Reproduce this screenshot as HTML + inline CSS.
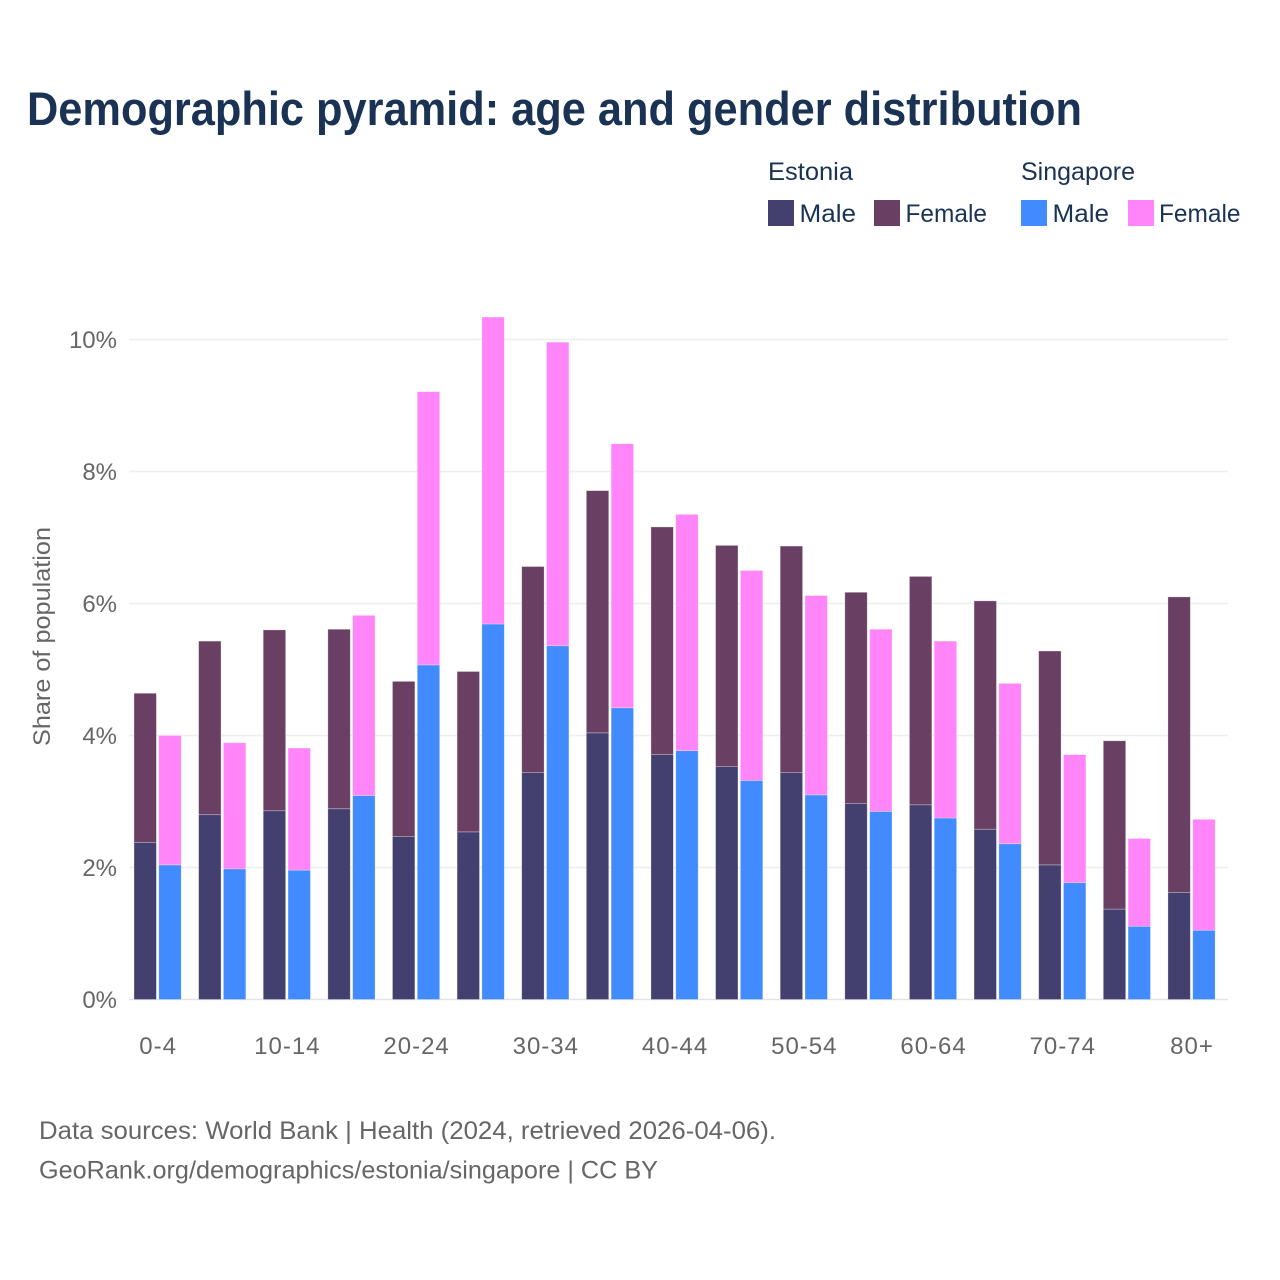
<!DOCTYPE html>
<html lang="en">
<head>
<meta charset="utf-8">
<title>Demographic pyramid: age and gender distribution</title>
<style>
  html, body { margin: 0; padding: 0; background: #fff; }
  svg { display: block; font-family: "Liberation Sans", sans-serif; }
</style>
</head>
<body>
<svg id="chart" xmlns="http://www.w3.org/2000/svg" width="1280" height="1280" viewBox="0 0 1280 1280">
  <rect x="0" y="0" width="1280" height="1280" fill="#ffffff"/>
  <text x="27" y="125" font-size="47" font-weight="700" fill="#1a3354" textLength="1055" lengthAdjust="spacingAndGlyphs">Demographic pyramid: age and gender distribution</text>

  <g font-size="25" fill="#1a3354">
    <text x="768" y="180" textLength="85" lengthAdjust="spacingAndGlyphs">Estonia</text>
    <text x="1021" y="180" textLength="114" lengthAdjust="spacingAndGlyphs">Singapore</text>
    <rect x="768" y="200" width="26" height="26" fill="#434070"/>
    <text x="799.5" y="222" textLength="56.5" lengthAdjust="spacingAndGlyphs">Male</text>
    <rect x="874" y="200" width="26" height="26" fill="#694063"/>
    <text x="905.5" y="222" textLength="81.5" lengthAdjust="spacingAndGlyphs">Female</text>
    <rect x="1021" y="200" width="26" height="26" fill="#418bff"/>
    <text x="1052.5" y="222" textLength="56.5" lengthAdjust="spacingAndGlyphs">Male</text>
    <rect x="1128" y="200" width="26" height="26" fill="#ff85f8"/>
    <text x="1159" y="222" textLength="81.5" lengthAdjust="spacingAndGlyphs">Female</text>
  </g>

  <g id="grid"></g>
  <g id="bars"></g>
  <g id="yticks"></g>
  <g id="xticks"></g>

  <text transform="translate(50 636.5) rotate(-90)" text-anchor="middle" font-size="24" fill="#666666" textLength="219" lengthAdjust="spacingAndGlyphs">Share of population</text>

  <text x="39" y="1139" font-size="25" fill="#666666" textLength="737" lengthAdjust="spacingAndGlyphs">Data sources: World Bank | Health (2024, retrieved 2026-04-06).</text>
  <text x="39" y="1178.5" font-size="25" fill="#666666" textLength="619" lengthAdjust="spacingAndGlyphs">GeoRank.org/demographics/estonia/singapore | CC BY</text>
</svg>
<script>
const categories = ["0-4","5-9","10-14","15-19","20-24","25-29","30-34","35-39","40-44","45-49","50-54","55-59","60-64","65-69","70-74","75-79","80+"];
const estoniaMale = [2.38,2.80,2.86,2.89,2.47,2.54,3.44,4.04,3.71,3.53,3.44,2.97,2.95,2.58,2.04,1.37,1.62];
const estoniaFemale = [2.26,2.63,2.74,2.72,2.35,2.43,3.12,3.67,3.45,3.35,3.43,3.20,3.46,3.46,3.24,2.55,4.48];
const singaporeMale = [2.04,1.98,1.96,3.09,5.07,5.69,5.36,4.42,3.77,3.32,3.10,2.85,2.75,2.36,1.77,1.11,1.05];
const singaporeFemale = [1.96,1.91,1.85,2.73,4.14,4.65,4.60,4.00,3.58,3.18,3.02,2.76,2.68,2.43,1.94,1.33,1.68];
const yTickValues = [0,2,4,6,8,10];
const xTickLabels = ["0-4","10-14","20-24","30-34","40-44","50-54","60-64","70-74","80+"];

const NS = "http://www.w3.org/2000/svg";
const y0 = 999.5, pxPerUnit = 66;
const firstCenter = 157.6, step = 64.62, barW = 22.4, barGap = 2.4;
const yScale = v => y0 - v * pxPerUnit;
const xCenter = i => firstCenter + i * step;

function svgEl(tag, attrs, parent) {
  const el = document.createElementNS(NS, tag);
  for (const k in attrs) el.setAttribute(k, attrs[k]);
  parent.appendChild(el);
  return el;
}

const gridG = document.getElementById("grid");
const yG = document.getElementById("yticks");
yTickValues.forEach(v => {
  const line = svgEl("line", {x1: 129, x2: 1228, y1: yScale(v), y2: yScale(v), stroke: v === 0 ? "#e3e3e3" : "#eeeeee", "stroke-width": 1.5}, gridG);
  
  
  const t = svgEl("text", {x: 117, y: yScale(v) + 8.5, "text-anchor": "end", "font-size": 24, fill: "#666666"}, yG);
  t.textContent = v + "%";
  
  
});

const xG = document.getElementById("xticks");
xTickLabels.forEach(label => {
  const i = categories.indexOf(label);
  const t = svgEl("text", {x: xCenter(i) + 0.5, y: 1054, "text-anchor": "middle", "font-size": 24, "letter-spacing": 1, fill: "#666666"}, xG);
  t.textContent = label;
  
  
});

const barsG = document.getElementById("bars");
function drawBar(x, bottom, value, fill, name) {
  const top = bottom + value;
  const r = svgEl("rect", {x: x, y: yScale(top), width: barW, height: yScale(bottom) - yScale(top), fill: fill, stroke: "#ffffff", "stroke-opacity": 0.4, "stroke-width": 0.7}, barsG);
  
  
}
categories.forEach((c, i) => {
  const left = xCenter(i) - barGap / 2 - barW;
  const right = xCenter(i) + barGap / 2;
  drawBar(left, 0, estoniaMale[i], "#434070", "bar-estonia-male");
  drawBar(left, estoniaMale[i], estoniaFemale[i], "#694063", "bar-estonia-female");
  drawBar(right, 0, singaporeMale[i], "#418bff", "bar-singapore-male");
  drawBar(right, singaporeMale[i], singaporeFemale[i], "#ff85f8", "bar-singapore-female");
});
</script>
</body>
</html>
